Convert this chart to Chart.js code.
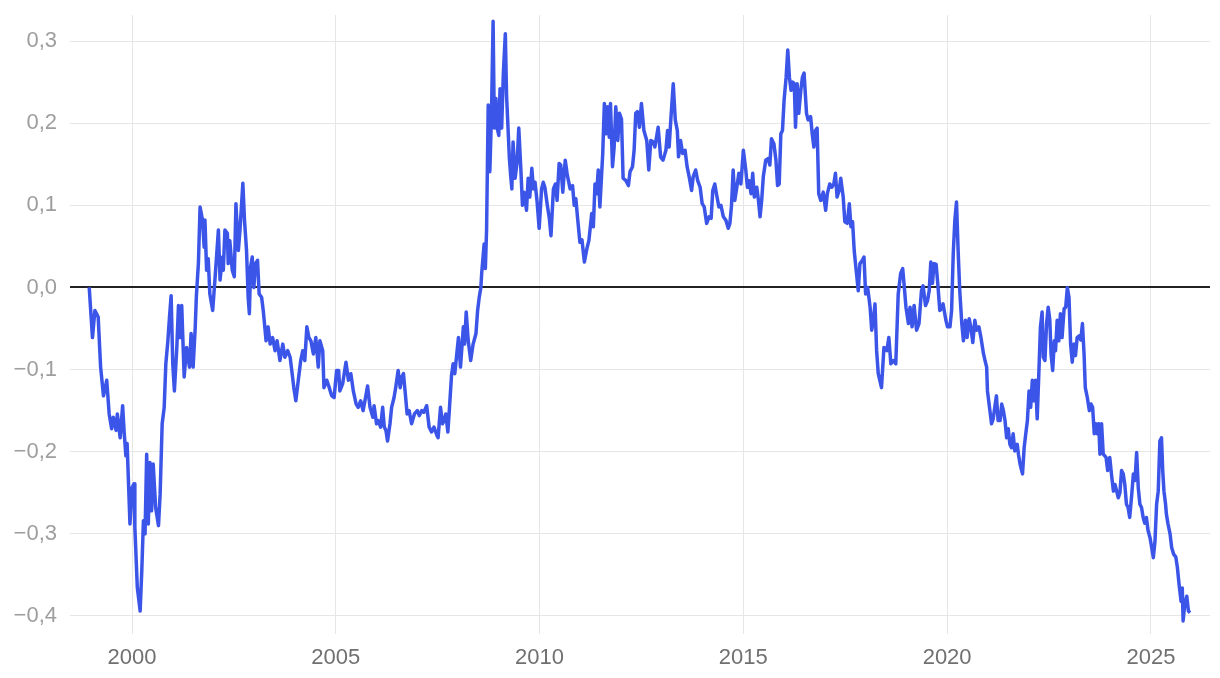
<!DOCTYPE html>
<html>
<head>
<meta charset="utf-8">
<script src="https://cdn.jsdelivr.net/npm/chart.js@4.4.1/dist/chart.umd.min.js"></script>
<style>
  html, body { margin: 0; padding: 0; background: #fff; }
</style>
</head>
<body>
<canvas id="myChart" width="1220" height="678"></canvas>
<script>
// series (decimal years)
const years = [
  1998.95,1999.03,1999.09,1999.13,1999.17,1999.23,1999.30,1999.38,1999.44,1999.50,
  1999.54,1999.61,1999.64,1999.71,1999.77,1999.81,1999.85,1999.88,1999.95,2000.00,
  2000.05,2000.07,2000.13,2000.20,2000.24,2000.28,2000.32,2000.36,2000.40,2000.44,
  2000.48,2000.52,2000.58,2000.65,2000.69,2000.74,2000.79,2000.83,2000.88,2000.92,
  2000.96,2001.00,2001.04,2001.10,2001.14,2001.18,2001.22,2001.28,2001.34,2001.41,
  2001.45,2001.50,2001.55,2001.58,2001.63,2001.67,2001.73,2001.77,2001.79,2001.83,
  2001.87,2001.91,2001.98,2002.04,2002.12,2002.16,2002.22,2002.24,2002.28,2002.34,
  2002.36,2002.40,2002.46,2002.51,2002.55,2002.61,2002.65,2002.72,2002.76,2002.81,
  2002.85,2002.88,2002.91,2002.95,2002.99,2003.03,2003.08,2003.12,2003.18,2003.22,
  2003.29,2003.34,2003.39,2003.45,2003.51,2003.56,2003.63,2003.70,2003.75,2003.82,
  2003.88,2003.92,2003.97,2004.02,2004.08,2004.14,2004.19,2004.24,2004.29,2004.34,
  2004.39,2004.45,2004.51,2004.57,2004.61,2004.68,2004.71,2004.78,2004.84,2004.90,
  2004.96,2005.02,2005.07,2005.10,2005.17,2005.25,2005.31,2005.37,2005.43,2005.50,
  2005.55,2005.61,2005.67,2005.73,2005.78,2005.84,2005.91,2005.94,2006.00,2006.04,
  2006.10,2006.15,2006.19,2006.23,2006.27,2006.33,2006.37,2006.43,2006.47,2006.53,
  2006.58,2006.62,2006.66,2006.70,2006.75,2006.80,2006.86,2006.93,2007.00,2007.05,
  2007.11,2007.16,2007.23,2007.29,2007.35,2007.41,2007.48,2007.51,2007.57,2007.62,
  2007.66,2007.70,2007.75,2007.78,2007.84,2007.88,2007.92,2008.01,2008.06,2008.13,
  2008.16,2008.20,2008.25,2008.31,2008.37,2008.44,2008.48,2008.52,2008.56,2008.58,
  2008.64,2008.67,2008.70,2008.74,2008.78,2008.82,2008.86,2008.89,2008.93,2008.96,
  2009.00,2009.03,2009.07,2009.11,2009.16,2009.19,2009.26,2009.29,2009.32,2009.35,
  2009.40,2009.45,2009.49,2009.54,2009.58,2009.62,2009.68,2009.72,2009.76,2009.81,
  2009.85,2009.89,2009.94,2009.99,2010.05,2010.09,2010.13,2010.19,2010.24,2010.28,
  2010.34,2010.39,2010.43,2010.48,2010.52,2010.57,2010.63,2010.68,2010.75,2010.81,
  2010.85,2010.89,2010.93,2010.99,2011.04,2011.10,2011.16,2011.21,2011.28,2011.32,
  2011.36,2011.40,2011.44,2011.48,2011.55,2011.59,2011.63,2011.67,2011.71,2011.74,
  2011.79,2011.83,2011.87,2011.92,2011.96,2012.01,2012.05,2012.12,2012.18,2012.22,
  2012.28,2012.32,2012.36,2012.40,2012.45,2012.50,2012.56,2012.63,2012.68,2012.73,
  2012.79,2012.83,2012.91,2012.97,2013.03,2013.10,2013.14,2013.18,2013.22,2013.28,
  2013.33,2013.38,2013.41,2013.46,2013.51,2013.57,2013.62,2013.67,2013.73,2013.77,
  2013.83,2013.88,2013.94,2013.99,2014.04,2014.10,2014.16,2014.21,2014.25,2014.30,
  2014.34,2014.40,2014.45,2014.51,2014.57,2014.63,2014.67,2014.71,2014.75,2014.79,
  2014.84,2014.89,2014.94,2015.00,2015.06,2015.10,2015.14,2015.19,2015.23,2015.27,
  2015.33,2015.37,2015.41,2015.45,2015.49,2015.55,2015.61,2015.65,2015.69,2015.75,
  2015.80,2015.84,2015.88,2015.92,2015.96,2016.00,2016.05,2016.09,2016.13,2016.17,
  2016.21,2016.25,2016.28,2016.32,2016.36,2016.41,2016.45,2016.49,2016.55,2016.59,
  2016.65,2016.69,2016.73,2016.77,2016.81,2016.85,2016.90,2016.96,2017.02,2017.06,
  2017.12,2017.17,2017.22,2017.26,2017.30,2017.35,2017.39,2017.45,2017.49,2017.55,
  2017.60,2017.64,2017.68,2017.72,2017.76,2017.82,2017.86,2017.92,2017.96,2018.00,
  2018.05,2018.11,2018.15,2018.19,2018.23,2018.27,2018.31,2018.39,2018.45,2018.52,
  2018.57,2018.62,2018.68,2018.74,2018.80,2018.86,2018.91,2018.95,2018.99,2019.05,
  2019.09,2019.14,2019.19,2019.25,2019.31,2019.37,2019.41,2019.47,2019.52,2019.56,
  2019.60,2019.64,2019.68,2019.73,2019.77,2019.82,2019.86,2019.90,2019.97,2020.01,
  2020.07,2020.11,2020.15,2020.19,2020.23,2020.27,2020.31,2020.36,2020.40,2020.45,
  2020.49,2020.54,2020.58,2020.63,2020.68,2020.72,2020.78,2020.83,2020.89,2020.93,
  2020.97,2020.99,2021.05,2021.09,2021.13,2021.17,2021.21,2021.25,2021.30,2021.34,
  2021.38,2021.42,2021.46,2021.50,2021.54,2021.58,2021.62,2021.66,2021.72,2021.75,
  2021.79,2021.85,2021.89,2021.93,2021.97,2022.01,2022.05,2022.09,2022.13,2022.17,
  2022.21,2022.25,2022.29,2022.33,2022.36,2022.40,2022.44,2022.48,2022.52,2022.55,
  2022.59,2022.63,2022.66,2022.70,2022.74,2022.78,2022.82,2022.87,2022.91,2022.95,
  2022.99,2023.03,2023.07,2023.11,2023.15,2023.19,2023.24,2023.28,2023.32,2023.36,
  2023.39,2023.44,2023.49,2023.53,2023.57,2023.61,2023.65,2023.68,2023.72,2023.75,
  2023.79,2023.83,2023.90,2023.94,2023.99,2024.04,2024.08,2024.12,2024.16,2024.20,
  2024.24,2024.28,2024.32,2024.36,2024.40,2024.44,2024.48,2024.53,2024.57,2024.61,
  2024.65,2024.69,2024.73,2024.77,2024.81,2024.85,2024.89,2024.93,2024.98,2025.02,
  2025.06,2025.10,2025.14,2025.18,2025.22,2025.26,2025.29,2025.32,2025.36,2025.38,
  2025.42,2025.47,2025.51,2025.56,2025.61,2025.65,2025.69,2025.74,2025.77,2025.79,
  2025.83,2025.88,2025.92,2025.96
];

const values = [
  0.000,-0.061,-0.028,-0.032,-0.036,-0.097,-0.132,-0.113,-0.154,-0.172,
  -0.158,-0.174,-0.154,-0.183,-0.144,-0.178,-0.205,-0.190,-0.288,-0.244,
  -0.239,-0.292,-0.365,-0.394,-0.345,-0.284,-0.300,-0.203,-0.288,-0.213,
  -0.272,-0.215,-0.268,-0.290,-0.252,-0.166,-0.146,-0.093,-0.065,-0.036,
  -0.010,-0.093,-0.126,-0.073,-0.022,-0.061,-0.022,-0.109,-0.073,-0.097,
  -0.056,-0.097,-0.050,-0.010,0.030,0.098,0.082,0.049,0.082,0.021,
  0.035,-0.008,-0.028,0.013,0.070,0.009,0.037,0.021,0.070,0.066,
  0.029,0.057,0.021,0.013,0.102,0.045,0.070,0.127,0.082,0.045,
  -0.012,-0.032,0.025,0.037,0.000,0.029,0.033,-0.008,-0.012,-0.028,
  -0.065,-0.048,-0.069,-0.061,-0.077,-0.065,-0.089,-0.069,-0.085,-0.077,
  -0.085,-0.101,-0.122,-0.138,-0.113,-0.089,-0.077,-0.089,-0.048,-0.061,
  -0.065,-0.081,-0.061,-0.097,-0.065,-0.077,-0.122,-0.113,-0.122,-0.132,
  -0.134,-0.101,-0.101,-0.126,-0.117,-0.091,-0.113,-0.105,-0.126,-0.142,
  -0.146,-0.138,-0.150,-0.134,-0.120,-0.146,-0.158,-0.144,-0.166,-0.162,
  -0.170,-0.146,-0.170,-0.174,-0.187,-0.166,-0.146,-0.134,-0.122,-0.101,
  -0.122,-0.109,-0.105,-0.126,-0.154,-0.150,-0.166,-0.154,-0.150,-0.156,
  -0.150,-0.152,-0.144,-0.170,-0.176,-0.170,-0.180,-0.183,-0.146,-0.166,
  -0.162,-0.154,-0.176,-0.154,-0.107,-0.093,-0.105,-0.061,-0.097,-0.048,
  -0.069,-0.030,-0.065,-0.089,-0.069,-0.056,-0.028,-0.012,0.000,0.017,
  0.053,0.023,0.070,0.222,0.141,0.210,0.324,0.194,0.230,0.194,
  0.185,0.242,0.194,0.259,0.309,0.234,0.157,0.137,0.120,0.177,
  0.133,0.153,0.194,0.145,0.100,0.116,0.094,0.133,0.110,0.145,
  0.120,0.128,0.104,0.072,0.120,0.128,0.122,0.100,0.084,0.063,
  0.120,0.126,0.106,0.151,0.149,0.116,0.155,0.137,0.120,0.124,
  0.100,0.108,0.086,0.055,0.058,0.031,0.047,0.057,0.090,0.074,
  0.126,0.114,0.143,0.098,0.163,0.224,0.187,0.220,0.183,0.224,
  0.147,0.171,0.220,0.179,0.212,0.205,0.133,0.130,0.124,0.141,
  0.147,0.167,0.212,0.214,0.195,0.224,0.191,0.179,0.143,0.179,
  0.177,0.171,0.195,0.159,0.155,0.167,0.191,0.171,0.204,0.248,
  0.204,0.191,0.159,0.179,0.163,0.167,0.147,0.135,0.118,0.135,
  0.143,0.130,0.122,0.102,0.098,0.078,0.086,0.084,0.118,0.126,
  0.114,0.098,0.100,0.086,0.082,0.072,0.078,0.100,0.143,0.106,
  0.122,0.139,0.126,0.167,0.143,0.122,0.130,0.114,0.139,0.110,
  0.122,0.106,0.086,0.106,0.135,0.155,0.157,0.149,0.181,0.175,
  0.155,0.124,0.126,0.187,0.191,0.228,0.256,0.289,0.256,0.240,
  0.250,0.248,0.195,0.248,0.212,0.240,0.256,0.261,0.212,0.204,
  0.208,0.187,0.171,0.191,0.194,0.114,0.106,0.116,0.094,0.114,
  0.126,0.122,0.126,0.139,0.110,0.118,0.133,0.110,0.080,0.078,
  0.102,0.074,0.080,0.045,0.025,-0.004,0.029,0.033,0.037,-0.008,
  0.000,-0.024,-0.052,-0.040,-0.020,-0.077,-0.105,-0.122,-0.073,-0.077,
  -0.061,-0.093,-0.089,-0.093,-0.008,0.017,0.023,0.000,-0.024,-0.044,
  -0.024,-0.048,-0.022,-0.052,-0.044,-0.004,0.002,-0.022,-0.016,-0.004,
  0.031,0.005,0.029,0.028,0.005,-0.028,-0.026,-0.020,-0.040,-0.048,
  -0.048,-0.028,0.041,0.082,0.104,0.045,-0.004,-0.044,-0.065,-0.040,
  -0.061,-0.038,-0.048,-0.067,-0.040,-0.052,-0.048,-0.061,-0.080,-0.089,
  -0.097,-0.126,-0.150,-0.166,-0.160,-0.146,-0.132,-0.162,-0.162,-0.142,
  -0.150,-0.162,-0.183,-0.172,-0.191,-0.195,-0.178,-0.199,-0.191,-0.203,
  -0.215,-0.227,-0.195,-0.178,-0.162,-0.126,-0.146,-0.113,-0.138,-0.113,
  -0.160,-0.105,-0.048,-0.030,-0.085,-0.089,-0.044,-0.024,-0.040,-0.081,
  -0.101,-0.065,-0.077,-0.040,-0.065,-0.032,-0.061,-0.026,-0.024,0.000,
  -0.012,-0.069,-0.091,-0.069,-0.083,-0.061,-0.059,-0.064,-0.044,-0.081,
  -0.122,-0.134,-0.150,-0.142,-0.146,-0.178,-0.166,-0.178,-0.166,-0.203,
  -0.166,-0.203,-0.207,-0.223,-0.207,-0.231,-0.248,-0.240,-0.248,-0.256,
  -0.250,-0.223,-0.227,-0.240,-0.264,-0.268,-0.280,-0.252,-0.227,-0.235,
  -0.201,-0.244,-0.264,-0.268,-0.280,-0.287,-0.280,-0.296,-0.305,-0.317,
  -0.329,-0.309,-0.264,-0.248,-0.187,-0.183,-0.223,-0.248,-0.264,-0.276,
  -0.288,-0.300,-0.317,-0.325,-0.328,-0.341,-0.361,-0.382,-0.366,-0.406,
  -0.386,-0.376,-0.394,-0.396
];

const xTicks = [2000, 2005, 2010, 2015, 2020, 2025];
const yTicks = [-0.4, -0.3, -0.2, -0.1, 0, 0.1, 0.2, 0.3];

const points = years.map((x, i) => ({ x: x, y: values[i] }));
const fontFamily = "'Liberation Sans', Arial, Helvetica, sans-serif";

function formatNumber(v) {
  return v.toFixed(1).replace('.', ',').replace('-', '\u2212');
}

const ctx = document.getElementById('myChart').getContext('2d');
const myChart = new Chart(ctx, {
  type: 'line',
  data: {
    datasets: [{
      data: points,
      borderColor: '#3c55e9',
      borderWidth: 3.5,
      pointRadius: 0,
      tension: 0,
      borderJoinStyle: 'round',
      fill: false
    }]
  },
  options: {
    responsive: false,
    devicePixelRatio: 1,
    animation: false,
    layout: { padding: { top: 15, right: 10, bottom: 7, left: 0 } },
    plugins: {
      legend: { display: false },
      tooltip: { enabled: false }
    },
    scales: {
      x: {
        type: 'linear',
        min: 1998.675,
        max: 2026.45,
        afterBuildTicks: (axis) => { axis.ticks = xTicks.map(v => ({ value: v })); },
        afterFit: (axis) => { axis.height = 45; },
        border: { display: false },
        grid: { color: '#e6e6e6', lineWidth: 1, tickLength: 8 },
        ticks: {
          color: '#707070',
          font: { family: fontFamily, size: 22 },
          padding: 11,
          maxRotation: 0,
          autoSkip: false,
          callback: (v) => String(v)
        }
      },
      y: {
        min: -0.4122,
        max: 0.3317,
        afterBuildTicks: (axis) => { axis.ticks = yTicks.map(v => ({ value: v })); },
        afterFit: (axis) => {
          axis.width = 78;
          // the outer ticks sit inside the range, so no extra room is needed
          axis.paddingTop = 0;
          axis.paddingBottom = 0;
        },
        border: { display: false },
        grid: {
          color: (c) => (c.tick && c.tick.value === 0 ? '#222222' : '#e6e6e6'),
          lineWidth: (c) => (c.tick && c.tick.value === 0 ? 2 : 1),
          tickLength: 8
        },
        ticks: {
          color: '#9e9e9e',
          font: { family: fontFamily, size: 22 },
          padding: 13,
          callback: (v) => formatNumber(v)
        }
      }
    }
  }
});
</script>
</body>
</html>
